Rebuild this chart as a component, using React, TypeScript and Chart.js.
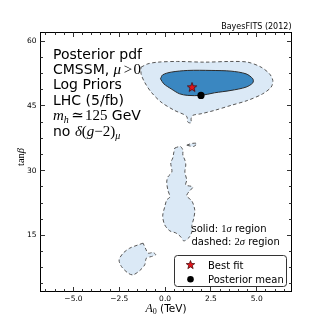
import React, { useEffect, useRef } from 'react';
import { Chart, registerables } from 'chart.js';

Chart.register(...registerables);

// ---- axis data ----
const xRange: [number, number] = [-6.8, 6.9];
const yRange: [number, number] = [2, 62];
const xMajorTicks = [-5, -2.5, 0, 2.5, 5];
const yMajorTicks = [15, 30, 45, 60];
const xMinorStep = 0.5;
const yMinorStep = 3.75;

// ---- contour data (A0 in TeV, tan beta) ----
const topBlob2sigma: [number, number][] = [
  [-1.31, 53.97], [-0.94, 54.74], [-0.4, 55.13], [0.69, 55.29], [2.15, 55.13], [3.6, 55.29],
  [4.51, 55.13], [5.24, 53.97], [5.7, 52.42], [5.88, 50.9], [5.79, 49.35], [5.33, 47.8],
  [4.51, 46.27], [3.6, 45.12], [2.7, 43.96], [1.96, 43.17], [1.51, 42.8], [1.42, 42.02],
  [1.42, 41.09], [1.24, 41.25], [1.2, 42.41], [1.06, 42.94], [0.51, 43.96], [-0.22, 45.88],
  [-0.76, 48.19], [-1.12, 50.5], [-1.31, 52.42],
];
const topBlob1sigma: [number, number][] = [
  [-0.25, 51.27], [-0.13, 52.19], [0.33, 52.82], [1.24, 53.21], [2.51, 53.21], [3.6, 53.05],
  [4.42, 52.42], [4.79, 51.27], [4.79, 50.34], [4.42, 49.35], [3.6, 48.58], [2.7, 48.03],
  [1.96, 47.43], [1.24, 47.43], [0.79, 47.8], [0.33, 48.95], [-0.07, 50.11],
];
const stripe2sigma: [number, number][] = [
  [0.53, 35.24], [0.83, 35.59], [0.97, 34.78], [0.97, 33.62], [1.08, 32.46], [1.13, 31.31],
  [1.08, 29.69], [1.18, 27.84], [1.13, 26.68], [1.51, 26.22], [1.29, 25.06], [1.18, 24.14],
  [1.46, 22.98], [1.62, 20.9], [1.57, 19.05], [1.46, 17.2], [1.46, 15.81], [1.29, 14.42],
  [1.02, 13.73], [0.86, 14.65], [0.58, 15.58], [0.26, 16.04], [-0.02, 17.43], [-0.13, 19.51],
  [-0.02, 21.59], [0.09, 23.21], [0.26, 23.9], [0.15, 25.52], [0.09, 27.37], [0.15, 28.53],
  [0.37, 29.69], [0.31, 31.77], [0.42, 32.93], [0.47, 34.08],
];
const island2sigma: [number, number][] = [
  [1.18, 35.9], [1.46, 36.3], [1.73, 36.3], [1.56, 35.6],
];
const lowBlob2sigma: [number, number][] = [
  [-1.2, 13.2], [-1.47, 12.8], [-1.93, 12.04], [-2.29, 10.88], [-2.51, 9.33], [-2.38, 7.78],
  [-2.02, 6.26], [-1.75, 5.86], [-1.38, 6.86], [-1.11, 8.18], [-1.02, 9.73], [-0.74, 10.1],
  [-0.51, 10.49], [-0.65, 11.02], [-0.93, 10.88], [-1.05, 11.81],
];
const bestFit: [number, number] = [1.47, 49.35];
const posteriorMean: [number, number] = [1.96, 47.43];

// ---- text ----
const headerText = 'BayesFITS (2012)';
const xTitle = ['A', '0', ' (TeV)'];
const yTitle = ['tan', 'β'];
const legendLabels = ['Best fit', 'Posterior mean'];
const noteLines = ['solid: ', '1', 'σ', ' region', 'dashed: ', '2', 'σ', ' region'];

const SANS = '"DejaVu Sans", sans-serif';
const SERIF = '"Liberation Serif", "DejaVu Serif", serif';

const LIGHT = '#dbe9f6';
const DARK = '#3a87c1';

type Seg = { t: string; f: string; dy?: number; dx?: number };

function drawSegs(ctx: CanvasRenderingContext2D, x: number, y: number, segs: Seg[]) {
  let cx = x;
  for (const s of segs) {
    ctx.font = s.f;
    cx += s.dx || 0;
    ctx.fillText(s.t, cx, y + (s.dy || 0));
    cx += ctx.measureText(s.t).width;
  }
  return cx;
}

function segsWidth(ctx: CanvasRenderingContext2D, segs: Seg[]) {
  let w = 0;
  for (const s of segs) {
    ctx.font = s.f;
    w += (s.dx || 0) + ctx.measureText(s.t).width;
  }
  return w;
}

function starPath(ctx: CanvasRenderingContext2D, cx: number, cy: number, R: number) {
  const r = R * 0.42;
  ctx.beginPath();
  for (let i = 0; i < 10; i++) {
    const ang = -Math.PI / 2 + (i * Math.PI) / 5;
    const rad = i % 2 === 0 ? R : r;
    const px = cx + rad * Math.cos(ang);
    const py = cy + rad * Math.sin(ang);
    if (i === 0) ctx.moveTo(px, py);
    else ctx.lineTo(px, py);
  }
  ctx.closePath();
}

function drawStar(ctx: CanvasRenderingContext2D, cx: number, cy: number, R: number) {
  starPath(ctx, cx, cy, R);
  ctx.fillStyle = '#e3141b';
  ctx.fill();
  ctx.strokeStyle = '#3a0000';
  ctx.lineWidth = 0.7;
  ctx.stroke();
}

const toPts = (arr: [number, number][]) => {
  const pts = arr.map(([x, y]) => ({ x, y }));
  pts.push({ ...pts[0] });
  return pts;
};

export default function App() {
  const ref = useRef<HTMLCanvasElement>(null);

  useEffect(() => {
    if (!ref.current) return;

    const starCanvas = document.createElement('canvas');
    starCanvas.width = 14;
    starCanvas.height = 14;
    const sctx = starCanvas.getContext('2d')!;
    drawStar(sctx, 7, 7.4, 5);

    const decor = {
      id: 'decor',
      afterDraw(chart: any) {
        const { ctx, chartArea: a, scales } = chart;
        const xs = scales.x;
        const ys = scales.y;
        ctx.save();
        ctx.strokeStyle = '#000';
        ctx.lineWidth = 1;
        ctx.strokeRect(a.left, a.top, a.right - a.left, a.bottom - a.top);
        const crisp = (v: number) => Math.round(v - 0.5) + 0.5;
        const tickX = (v: number, len: number) => {
          const px = crisp(xs.getPixelForValue(v));
          ctx.beginPath();
          ctx.moveTo(px, a.bottom);
          ctx.lineTo(px, a.bottom - len);
          ctx.moveTo(px, a.top);
          ctx.lineTo(px, a.top + len);
          ctx.stroke();
        };
        const tickY = (v: number, len: number) => {
          const py = crisp(ys.getPixelForValue(v));
          ctx.beginPath();
          ctx.moveTo(a.left, py);
          ctx.lineTo(a.left + len, py);
          ctx.moveTo(a.right, py);
          ctx.lineTo(a.right - len, py);
          ctx.stroke();
        };
        ctx.strokeStyle = '#333';
        for (let k = Math.ceil(xRange[0] / xMinorStep); k * xMinorStep <= xRange[1]; k++) {
          const v = k * xMinorStep;
          if (xMajorTicks.some((m) => Math.abs(m - v) < 1e-9)) continue;
          tickX(v, 2.5);
        }
        xMajorTicks.forEach((v) => tickX(v, 4.5));
        for (let k = Math.ceil(yRange[0] / yMinorStep); k * yMinorStep <= yRange[1]; k++) {
          const v = k * yMinorStep;
          if (yMajorTicks.some((m) => Math.abs(m - v) < 1e-9)) continue;
          tickY(v, 2.5);
        }
        yMajorTicks.forEach((v) => tickY(v, 4.5));

        ctx.fillStyle = '#000';
        ctx.textBaseline = 'alphabetic';

        ctx.font = `8px ${SANS}`;
        ctx.textAlign = 'right';
        ctx.fillText(headerText, a.right, 29);
        ctx.textAlign = 'left';

        const xt: Seg[] = [
          { t: xTitle[0], f: `italic 12px ${SERIF}` },
          { t: xTitle[1], f: `8px ${SERIF}`, dy: 2.5 },
          { t: xTitle[2], f: `10.5px ${SANS}` },
        ];
        const xw = segsWidth(ctx, xt);
        drawSegs(ctx, (a.left + a.right) / 2 - xw / 2, 311.5, xt);

        ctx.save();
        ctx.translate(24, 157);
        ctx.rotate(-Math.PI / 2);
        const yt: Seg[] = [
          { t: yTitle[0], f: `10.5px ${SERIF}` },
          { t: yTitle[1], f: `italic 10.5px ${SERIF}` },
        ];
        const yw = segsWidth(ctx, yt);
        drawSegs(ctx, -yw / 2, 0, yt);
        ctx.restore();

        const bx = 53;
        const b0 = 58.5;
        const st = 15.4;
        const big = `14px ${SANS}`;
        const m15 = `15px ${SERIF}`;
        const mi15 = `italic 15px ${SERIF}`;
        const mi10 = `italic 10px ${SERIF}`;
        drawSegs(ctx, bx, b0, [{ t: 'Posterior pdf', f: big }]);
        drawSegs(ctx, bx, b0 + st, [
          { t: 'CMSSM, ', f: big },
          { t: 'μ', f: mi15 },
          { t: '>', f: m15, dx: 2.5 },
          { t: '0', f: m15, dx: 1.5 },
        ]);
        drawSegs(ctx, bx, b0 + st * 2, [{ t: 'Log Priors', f: big }]);
        drawSegs(ctx, bx, b0 + st * 3, [{ t: 'LHC (5/fb)', f: big }]);
        drawSegs(ctx, bx, b0 + st * 4, [
          { t: 'm', f: mi15 },
          { t: 'h', f: mi10, dy: 3 },
          { t: '≃', f: m15, dx: 2.5 },
          { t: '125', f: m15, dx: 1 },
          { t: ' GeV', f: big },
        ]);
        drawSegs(ctx, bx, b0 + st * 5, [
          { t: 'no ', f: big },
          { t: 'δ', f: mi15 },
          { t: '(', f: m15 },
          { t: 'g', f: mi15 },
          { t: '−2)', f: m15 },
          { t: 'μ', f: mi10, dy: 3 },
        ]);

        const n10 = `10px ${SANS}`;
        drawSegs(ctx, 191.5, 231.5, [
          { t: noteLines[0], f: n10 },
          { t: noteLines[1], f: `10.5px ${SERIF}` },
          { t: noteLines[2], f: `italic 10.5px ${SERIF}` },
          { t: noteLines[3], f: n10 },
        ]);
        drawSegs(ctx, 191.5, 244.5, [
          { t: noteLines[4], f: n10 },
          { t: noteLines[5], f: `10.5px ${SERIF}` },
          { t: noteLines[6], f: `italic 10.5px ${SERIF}` },
          { t: noteLines[7], f: n10 },
        ]);

        const L = 174.5, T = 255.5, R = 286.5, B = 286.5, rad = 3;
        ctx.beginPath();
        ctx.moveTo(L + rad, T);
        ctx.lineTo(R - rad, T);
        ctx.arcTo(R, T, R, T + rad, rad);
        ctx.lineTo(R, B - rad);
        ctx.arcTo(R, B, R - rad, B, rad);
        ctx.lineTo(L + rad, B);
        ctx.arcTo(L, B, L, B - rad, rad);
        ctx.lineTo(L, T + rad);
        ctx.arcTo(L, T, L + rad, T, rad);
        ctx.closePath();
        ctx.fillStyle = 'rgba(255,255,255,0.85)';
        ctx.fill();
        ctx.strokeStyle = '#333';
        ctx.lineWidth = 1;
        ctx.stroke();
        drawStar(ctx, 190.5, 265, 4.5);
        ctx.beginPath();
        ctx.arc(190.5, 279.3, 3.3, 0, Math.PI * 2);
        ctx.fillStyle = '#000';
        ctx.fill();
        ctx.font = n10;
        ctx.fillText(legendLabels[0], 208, 268.5);
        ctx.fillText(legendLabels[1], 208, 283);
        ctx.restore();
      },
    };

    const dashed = (data: [number, number][], order: number) => ({
      data: toPts(data),
      showLine: true,
      fill: 'shape',
      backgroundColor: LIGHT,
      borderColor: '#555',
      borderWidth: 1,
      borderDash: [3.5, 2.5],
      pointRadius: 0,
      tension: 0.3,
      order,
    });

    const chart = new Chart(ref.current, {
      type: 'scatter',
      data: {
        datasets: [
          dashed(topBlob2sigma, 10) as any,
          dashed(stripe2sigma, 10) as any,
          dashed(island2sigma, 10) as any,
          dashed(lowBlob2sigma, 10) as any,
          {
            data: toPts(topBlob1sigma),
            showLine: true,
            fill: 'shape',
            backgroundColor: DARK,
            borderColor: '#2b2b2b',
            borderWidth: 1,
            pointRadius: 0,
            tension: 0.3,
            order: 5,
          } as any,
          {
            data: [{ x: posteriorMean[0], y: posteriorMean[1] }],
            pointStyle: 'circle',
            pointRadius: 3.6,
            backgroundColor: '#000',
            borderColor: '#000',
            borderWidth: 0,
            order: 2,
          } as any,
          {
            data: [{ x: bestFit[0], y: bestFit[1] }],
            pointStyle: starCanvas,
            pointRadius: 6,
            order: 1,
          } as any,
        ],
      },
      options: {
        responsive: false,
        animation: false,
        events: [],
        layout: { padding: { top: 32.5, right: 32.5, left: 0, bottom: 0 } },
        plugins: {
          legend: { display: false },
          tooltip: { enabled: false },
          title: { display: false },
        },
        scales: {
          x: {
            type: 'linear',
            min: xRange[0],
            max: xRange[1],
            afterFit: (s: any) => {
              s.height = 32.5;
            },
            afterBuildTicks: (s: any) => {
              s.ticks = xMajorTicks.map((v) => ({ value: v }));
            },
            grid: { display: false, drawTicks: false },
            border: { display: false },
            ticks: {
              padding: 3,
              color: '#000',
              autoSkip: false,
              maxRotation: 0,
              font: { family: 'DejaVu Sans', size: 7.5 },
              callback: (v: any) => Number(v).toFixed(1).replace('-', '\u2212'),
            },
          },
          y: {
            type: 'linear',
            min: yRange[0],
            max: yRange[1],
            afterFit: (s: any) => {
              s.width = 40.5;
            },
            afterBuildTicks: (s: any) => {
              s.ticks = yMajorTicks.map((v) => ({ value: v }));
            },
            grid: { display: false, drawTicks: false },
            border: { display: false },
            ticks: {
              padding: 4,
              color: '#000',
              autoSkip: false,
              font: { family: 'DejaVu Sans', size: 7.5 },
              callback: (v: any) => String(v),
            },
          },
        },
      } as any,
      plugins: [decor],
    });

    return () => chart.destroy();
  }, []);

  return (
    <div style={{ position: 'fixed', left: 0, top: 0, width: 324, height: 324, background: '#fff' }}>
      <canvas ref={ref} width={324} height={324} style={{ display: 'block' }} />
    </div>
  );
}
